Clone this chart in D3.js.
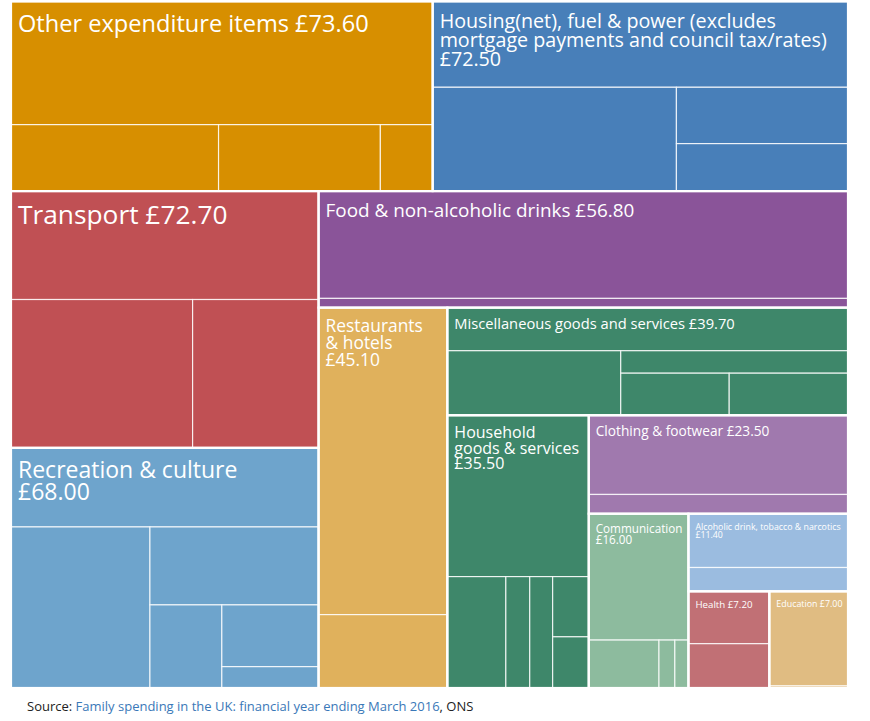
<!DOCTYPE html>
<html>
<head>
<meta charset="utf-8">
<script src="https://cdn.jsdelivr.net/npm/d3@7"></script>
<style>
  html, body { margin: 0; padding: 0; background: #fff; }
  svg { display: block; }
  text { font-family: "Open Sans", "Noto Sans", sans-serif; }
</style>
</head>
<body>
<svg id="chart" width="870" height="721"></svg>
<script>
// ---------------- DATA ----------------
const categories = [
  "Other expenditure items",
  "Housing(net), fuel & power (excludes mortgage payments and council tax/rates)",
  "Transport",
  "Recreation & culture",
  "Food & non-alcoholic drinks",
  "Restaurants & hotels",
  "Miscellaneous goods and services",
  "Household goods & services",
  "Clothing & footwear",
  "Communication",
  "Alcoholic drink, tobacco & narcotics",
  "Health",
  "Education"
];
// weekly household spending per category (£)
const totals = [73.6, 72.5, 72.7, 68.0, 56.8, 45.1, 39.7, 35.5, 23.5, 16.0, 11.4, 7.2, 7.0];
// sub-category spending within each category (£)
const subValues = [
  [47.8, 12.7, 9.9, 3.2],
  [32.8, 23.3, 8.9, 7.5],
  [30.7, 24.8, 17.2],
  [22.4, 20.6, 12.1, 5.5, 5.5, 1.9],
  [52.3, 4.5],
  [36.4, 8.7],
  [15.9, 10.3, 4.7, 4.2, 4.6],
  [21.0, 6.0, 2.45, 2.35, 2.0, 1.7],
  [18.9, 4.6],
  [11.6, 3.1, 0.7, 0.6],
  [7.9, 3.5],
  [3.9, 3.3],
  [6.85, 0.15]
];
// label lines ({v} = formatted total)
const labelLines = [
  ["Other expenditure items {v}"],
  ["Housing(net), fuel & power (excludes", "mortgage payments and council tax/rates)", "{v}"],
  ["Transport {v}"],
  ["Recreation & culture", "{v}"],
  ["Food & non-alcoholic drinks {v}"],
  ["Restaurants", "& hotels", "{v}"],
  ["Miscellaneous goods and services {v}"],
  ["Household", "goods & services", "{v}"],
  ["Clothing & footwear {v}"],
  ["Communication", "{v}"],
  ["Alcoholic drink, tobacco & narcotics", "{v}"],
  ["Health {v}"],
  ["Education {v}"]
];
const colors = ["#d78f00", "#487fb9", "#c05054", "#6ea4cc", "#8a5499", "#e0b15c",
                "#3e876a", "#3e876a", "#a079ae", "#8dbb9e", "#9bbce0", "#c17075", "#e0bc82"];
const labelSizes = [23.6, 19.7, 26.3, 23, 18.9, 17.4, 14.7, 16, 13.7, 11.7, 8.8, 9.7, 8.9];

// strip order of the tiling: h = strip across the top, v = strip down the left side, n = items in strip
const rootPlan = "h2 v2 h1 v1 h1 v1 h1 v1 h1 v1 h1";
const subPlans = [
  "h1 v1 h2", "h1 v1 h1 v1", "h1 v1 h1", "h1 v1 h1 v1 h1 v1", "h1 h1", "h1 h1",
  "h1 v1 h1 v1 h1", "h1 v1 v1 v1 h1 h1", "h1 h1", "h1 v1 h2", "h1 h1", "h1 h1", "h1 h1"
];

// ---------------- LAYOUT ----------------
const margin = {left: 11, top: 1.5};
const W = 837, H = 686.5;

function parsePlan(s) { return s.split(" ").map(t => [t[0], +t.slice(1)]); }

function planTile(node, x0, y0, x1, y1) {
  const plan = parsePlan(node.depth === 0 ? rootPlan : subPlans[node.data.index]);
  const kids = node.children;
  let i = 0, remaining = node.value;
  for (const [dir, count] of plan) {
    if (i >= kids.length) break;
    const group = kids.slice(i, i + count);
    const gv = d3.sum(group, d => d.value);
    const last = i + count >= kids.length;
    const row = {children: group, value: gv};
    if (dir === "h") {
      const yk = last ? y1 : y0 + (y1 - y0) * gv / remaining;
      d3.treemapDice(row, x0, y0, x1, yk);
      y0 = yk;
    } else {
      const xk = last ? x1 : x0 + (x1 - x0) * gv / remaining;
      d3.treemapSlice(row, x0, y0, xk, y1);
      x0 = xk;
    }
    remaining -= gv;
    i += count;
  }
}

const rootData = {
  name: "root",
  children: categories.map((c, i) => ({
    name: c, index: i,
    children: subValues[i].map(v => ({value: v}))
  }))
};

const root = d3.hierarchy(rootData).sum(d => d.value || 0);
d3.treemap().size([W, H]).tile(planTile).round(false)(root);

const svg = d3.select("#chart");
const g = svg.append("g").attr("transform", `translate(${margin.left},${margin.top})`);

// leaves
g.selectAll("rect.leaf")
  .data(root.leaves())
  .join("rect")
  .attr("class", "leaf")
  .attr("x", d => d.x0)
  .attr("y", d => d.y0)
  .attr("width", d => Math.max(0, d.x1 - d.x0))
  .attr("height", d => Math.max(0, d.y1 - d.y0))
  .attr("fill", d => colors[d.parent.data.index])
  .attr("stroke", "rgba(255,255,255,0.8)")
  .attr("stroke-width", 1.2);

// category outlines
const cats = root.children;
g.selectAll("rect.cat")
  .data(cats)
  .join("rect")
  .attr("class", "cat")
  .attr("x", d => d.x0)
  .attr("y", d => d.y0)
  .attr("width", d => d.x1 - d.x0)
  .attr("height", d => d.y1 - d.y0)
  .attr("fill", "none")
  .attr("stroke", "#fff")
  .attr("stroke-width", 2.2);

// labels
const fmt = d3.format(".2f");
cats.forEach(d => {
  const i = d.data.index;
  const fs = labelSizes[i];
  const t = g.append("text")
    .attr("y", d.y0 + 7.5 + 0.97 * fs)
    .attr("fill", "#fff")
    .style("font-size", fs + "px");
  labelLines[i].forEach((ln, k) => {
    t.append("tspan")
      .attr("x", d.x0 + 7)
      .attr("dy", k === 0 ? 0 : (0.97 * fs) + "px")
      .text(ln.replace("{v}", "£" + fmt(totals[i])));
  });
});

// source
const src = svg.append("text").attr("x", 27).attr("y", 711).style("font-size", "13px").attr("fill", "#222");
src.append("tspan").text("Source: ");
src.append("tspan").attr("fill", "#3a78b8").text("Family spending in the UK: financial year ending March 2016");
src.append("tspan").text(", ONS");
</script>
</body>
</html>
